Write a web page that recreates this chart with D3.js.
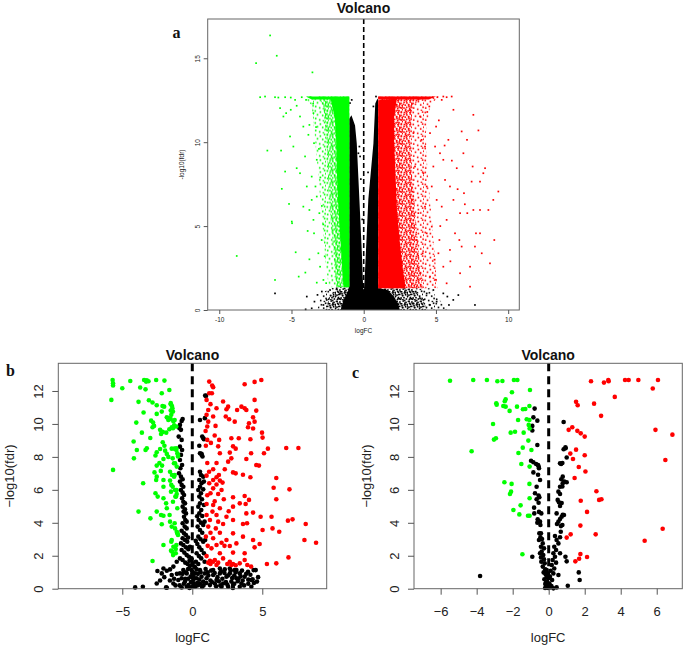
<!DOCTYPE html>
<html><head><meta charset="utf-8">
<script src="https://cdn.jsdelivr.net/npm/d3@7"></script>
<style>body{margin:0;background:#fff}svg{display:block}</style>
</head><body>
<svg id="chart" width="685" height="647"></svg>
<script>
// ---------- tick values ----------
const aXTicks = [-10, -5, 0, 5, 10];
const aYTicks = [0, 5, 10, 15];
const bXTicks = [-5, 0, 5];
const cXTicks = [-6, -4, -2, 0, 2, 4, 6];
const bcYTicks = [0, 2, 4, 6, 8, 10, 12];
const titleText = "Volcano";
const xLabel = "logFC";
const yLabel = "\u2212log10(fdr)";
const yLabelA = "-log10(fdr)";

// ---------- panel a: dense regions (outlines, logFC / -log10(fdr)) ----------
const aBlackSparse = [[-3.2,0],[-3.0,0.9],[-2.4,1.3],[-1.0,1.4],[1.0,1.3],[4.6,1.3],[5.0,0.8],[5.6,0.3],[5.8,0]];
const aBlackDense = [[-2.6,0],[-2.4,0.8],[-1.8,1.25],[-1.0,1.35],[1.0,1.3],[3.4,1.3],[3.8,0.9],[4.2,0.4],[4.4,0]];
const aBlackCore = [[-1.6,0],[-1.4,0.6],[-1.1,1.1],[-1.0,1.35],[-1.0,11.4],[-0.85,11.6],[-0.6,11.0],[-0.48,9.9],[-0.3,6.6],[-0.14,3.6],[-0.05,1.6],[-0.02,1.2],[0.02,1.2],[0.05,1.6],[0.16,3.6],[0.32,6.6],[0.67,9.9],[0.8,12.3],[0.95,12.6],[1.0,12.5],[1.0,1.3],[1.6,1.2],[2.1,0.8],[2.4,0.3],[2.5,0]];
const aGreenSparse = [[-1.0,1.35],[-1.0,12.72],[-4.2,12.72],[-3.6,12.2],[-3.4,10.5],[-3.2,8.5],[-3.0,6.5],[-2.8,4.5],[-2.6,2.5],[-2.4,1.35]];
const aGreenDense = [[-1.0,1.35],[-1.0,12.72],[-3.2,12.72],[-2.8,12.2],[-2.6,10.5],[-2.5,8.5],[-2.4,6.5],[-2.2,4.5],[-2.0,2.5],[-1.9,1.35]];
const aGreenCore = [[-1.0,1.35],[-1.0,12.6],[-2.3,12.6],[-2.0,11.5],[-1.9,10],[-1.85,8],[-1.75,6],[-1.6,4],[-1.5,2.5],[-1.4,1.35]];
const aGreenTop = [[-1.0,12.55],[-3.6,12.55],[-4.0,12.72],[-1.0,12.72]];
const aRedSparse = [[1.0,1.3],[1.0,12.72],[5.2,12.72],[4.6,12.2],[4.3,10.5],[4.4,8.5],[4.6,6.5],[4.8,4.5],[5.0,2.5],[5.1,1.3]];
const aRedDense = [[1.0,1.3],[1.0,12.72],[4.2,12.72],[3.4,12.2],[3.2,10.5],[3.3,8.5],[3.5,6.5],[3.7,4.5],[3.9,2.5],[4.1,1.3]];
const aRedCore = [[1.0,1.3],[1.0,12.5],[2.3,12.6],[2.1,11.5],[2.1,10],[2.2,8],[2.3,6],[2.5,4],[2.7,2.5],[2.9,1.3]];
const aRedTop = [[1.0,12.55],[4.5,12.55],[5.0,12.72],[1.0,12.72]];

// ---------- panel a: individual scattered points ----------
const aGreenPts = [[-6.48,16.36],[-6.02,15.15],[-7.45,14.71],[-3.55,14.16],[-8.79,3.22],[-6.14,1.79],[-6.67,9.5],[-5.72,9.5],[-5.67,7.22],[-5.17,6.32],[-4.98,5.27],[-4.96,5.17],[-4.71,3.44],[-4.5,1.99],[-4.04,2.23],[-3.88,4.71],[-3.76,3.02],[-3.25,1.63],[-5.44,8.25],[-5.1,10.34],[-4.87,9.74],[-4.64,8.45],[-4.41,8.15],[-4.06,9.15],[-3.76,5.96],[-3.48,5.37],[-3.6,6.56],[-3.34,7.36],[-5.56,11.53],[-5.79,12.03],[-5.37,11.73],[-5.05,11.93],[-4.75,12.52],[-7.17,12.68],[-6.83,12.72],[-6.14,12.68],[-5.91,12.66],[-5.44,12.68],[-5.05,12.66],[-4.64,12.17],[-4.41,11.53],[-4.18,10.93],[-3.83,10.44],[-3.44,9.94],[-3.25,8.95],[-3.94,7.36],[-4.18,6.16],[-3.44,4.57],[-3.14,3.38],[-3.02,2.58],[-2.79,1.79],[-2.91,4.17],[-3.07,5.77],[-3.25,6.76],[-3.6,7.95],[-3.76,11.03],[-3.48,11.73],[-3.99,12.52],[-4.29,12.68],[-3.71,12.68],[-2.7,3.2],[-2.8,5.1],[-3.0,7.9],[-3.1,9.6],[-3.3,10.9],[-2.6,1.6],[-2.9,6.2],[-3.5,12.3]];
const aRedPts = [[9.32,7.06],[9.04,4.17],[8.74,2.78],[8.63,5.96],[8.4,8.45],[8.17,3.38],[8.05,4.57],[8.05,7.65],[7.94,10.7],[7.59,11.63],[7.54,8.55],[7.47,7.65],[7.36,1.39],[7.7,3.78],[7.36,2.58],[6.9,9.34],[6.94,6.96],[6.78,10.64],[6.67,5.77],[6.62,4.17],[6.44,8.45],[6.21,11.93],[6.09,12.72],[6.21,6.56],[5.97,3.58],[5.86,10.14],[5.74,5.37],[5.63,7.75],[5.51,2.58],[5.4,12.52],[5.28,9.34],[5.24,4.17],[5.05,6.56],[5.01,10.93],[4.82,8.55],[4.71,4.97],[4.59,1.99],[4.54,12.13],[4.36,7.36],[4.24,9.74],[4.08,3.38],[3.9,11.53],[3.78,5.77],[3.67,1.39],[3.55,8.55],[5.51,12.72],[5.74,12.68],[5.1,12.68],[4.78,12.68],[8.97,6.56],[8.28,8.15],[7.15,10.14],[7.77,4.57],[7.17,5.77],[6.78,3.78],[6.32,4.57],[5.97,7.36],[5.51,8.95],[5.4,6.16],[5.17,3.38],[4.94,9.74],[4.71,7.36],[4.59,10.54],[4.36,4.57],[4.24,6.16],[4.13,8.15],[4.01,10.14],[3.9,2.19],[3.67,4.17],[3.44,10.54],[3.32,6.56],[3.21,11.93],[5.74,1.59],[6.67,2.19],[7.59,5.96],[8.05,5.96],[5.0,1.8],[5.3,5.0],[4.9,3.0],[5.6,9.8],[6.1,8.9],[6.5,7.2],[7.0,6.3],[6.0,2.9],[5.2,11.3],[4.4,11.8]];
const aBlackPts = [[-6.14,0.99],[-3.94,0.8],[-3.41,0.5],[-4.02,0.04],[-3.6,0.1],[-2.79,0.3],[-2.56,0.6],[-2.1,0.8],[-2.33,1.19],[-1.87,1.29],[-1.64,0.99],[6.55,0.89],[7.7,0.3],[5.79,0.8],[5.51,0.99],[4.82,1.19],[4.36,0.99],[4.13,0.6],[3.9,0.7],[5.05,0.5],[4.59,0.3],[3.44,0.4],[-0.25,9.15],[-0.3,9.74],[-0.37,9.34],[0.85,12.72],[-0.83,12.52],[-0.95,12.33],[0.67,12.13],[-3.2,0.9],[-2.9,1.1],[5.9,0.3],[6.2,0.6],[3.6,1.1],[-0.2,7.8],[0.3,8.2],[-0.1,5.4]];

// ---------- panel b points ----------
const bGreen = [[-5.69,12.67],[-5.66,12.47],[-5.66,12.33],[-5.78,11.46],[-5.66,7.21],[-5.0,12.17],[-4.43,12.61],[-3.72,12.21],[-3.44,12.67],[-3.25,12.65],[-3.3,12.57],[-3.13,12.59],[-2.58,12.67],[-1.99,12.63],[-3.34,12.1],[-3.84,11.34],[-3.1,11.44],[-2.84,11.3],[-2.18,11.86],[-1.64,12.06],[-2.54,11.13],[-2.13,11.09],[-2.01,11.05],[-1.54,11.19],[-1.45,11.09],[-1.42,10.95],[-1.54,10.81],[-2.18,10.75],[-2.54,10.61],[-3.48,10.69],[-4.0,10.08],[-2.94,10.2],[-2.8,10.08],[-2.73,9.88],[-2.84,9.8],[-3.6,9.47],[-1.82,10.4],[-1.71,10.24],[-1.54,10.3],[-1.35,10.16],[-1.3,9.92],[-1.47,9.8],[-1.64,9.68],[-2.3,9.64],[-2.11,9.51],[-2.23,9.39],[-4.19,8.93],[-3.0,9.15],[-3.25,8.52],[-3.34,8.42],[-3.96,8.42],[-4.17,7.91],[-2.11,8.89],[-1.99,8.68],[-2.3,8.48],[-2.54,8.28],[-2.63,8.08],[-1.94,8.38],[-1.82,8.18],[-1.71,8.0],[-2.06,7.87],[-2.35,7.63],[-2.16,7.47],[-2.54,7.47],[-2.25,7.15],[-1.47,8.5],[-1.28,8.5],[-1.14,8.42],[-1.07,8.22],[-1.02,8.12],[-1.4,7.91],[-1.23,7.61],[-1.11,7.41],[-2.7,7.06],[-2.54,6.8],[-2.58,6.6],[-3.51,6.4],[-2.06,6.6],[-1.59,7.1],[-1.45,6.9],[-1.3,6.8],[-1.59,6.56],[-1.4,6.19],[-1.23,5.99],[-1.52,5.89],[-1.11,5.75],[-1.16,5.59],[-2.06,6.19],[-2.63,5.79],[-2.47,5.59],[-2.06,5.49],[-1.87,5.18],[-1.82,4.88],[-3.84,4.68],[-2.99,4.27],[-2.23,4.47],[-2.06,4.43],[-2.54,4.68],[-2.18,3.91],[-1.59,4.07],[-1.47,3.77],[-1.23,3.66],[-1.11,3.46],[-1.02,3.26],[-1.07,3.4],[-1.47,2.96],[-1.35,2.55],[-1.18,2.41],[-1.52,2.31],[-2.06,2.65],[-1.37,2.04],[-1.18,2.15],[-2.84,1.68],[-1.54,11.26],[-1.38,10.75],[-1.5,10.55],[-1.26,10.24],[-1.69,10.35],[-1.38,9.74],[-1.14,9.84],[-2.14,9.53],[-1.86,9.47],[-1.14,8.52],[-1.02,8.02],[-1.31,7.61],[-1.26,6.9],[-1.5,6.3],[-1.12,5.99],[-1.21,5.59],[-1.38,5.28],[-1.07,4.88],[-1.62,4.47],[-1.26,3.97],[-1.07,3.36],[-1.5,2.85],[-1.14,2.65],[-1.43,2.25]];
const bRed = [[1.21,12.57],[1.42,12.33],[1.49,12.23],[1.4,11.86],[1.21,11.86],[3.74,12.41],[4.45,12.55],[4.93,12.67],[4.45,11.46],[1.02,11.46],[2.2,11.36],[2.56,11.05],[3.2,10.85],[3.51,11.05],[3.74,10.95],[3.86,10.85],[4.57,10.81],[1.14,10.85],[1.73,10.95],[2.44,10.89],[1.02,10.55],[1.49,10.45],[2.39,10.45],[2.63,10.28],[3.03,10.14],[4.05,10.04],[4.34,10.4],[4.45,10.14],[1.14,10.14],[1.07,9.84],[0.95,9.57],[1.66,9.88],[3.98,9.8],[4.34,9.72],[4.98,9.47],[5.02,9.17],[2.79,9.13],[3.32,9.13],[4.15,9.07],[1.07,9.03],[1.33,8.85],[1.92,9.03],[0.97,8.68],[1.85,8.64],[2.91,8.64],[3.1,8.5],[1.97,8.22],[2.68,8.26],[4.2,8.22],[5.12,8.22],[5.4,8.5],[6.71,8.54],[7.58,8.54],[3.86,7.87],[2.79,7.91],[2.56,7.71],[1.07,7.63],[1.73,7.63],[4.57,7.51],[4.76,7.47],[1.49,7.25],[2.32,7.25],[2.91,7.06],[3.1,7.0],[3.62,6.92],[1.02,6.86],[1.73,6.76],[4.15,6.76],[6.0,6.72],[1.49,6.6],[1.97,6.56],[1.21,6.4],[1.73,6.32],[2.16,6.44],[1.49,6.09],[2.09,5.99],[5.81,6.13],[6.94,6.03],[1.3,5.79],[1.07,5.67],[1.85,5.75],[2.91,5.55],[3.74,5.63],[6.0,5.43],[2.25,5.43],[4.05,5.39],[1.02,5.14],[1.49,5.08],[3.39,5.18],[3.81,5.14],[4.34,4.62],[2.91,4.98],[1.97,4.88],[1.44,4.68],[1.02,4.47],[1.73,4.47],[2.44,4.37],[2.91,4.17],[3.86,4.57],[4.88,4.37],[5.66,4.37],[6.83,4.13],[7.16,4.21],[8.1,3.93],[1.26,4.17],[1.85,4.07],[2.2,3.93],[3.62,3.93],[3.91,3.97],[1.14,3.77],[1.68,3.66],[5.02,3.56],[5.73,3.66],[6.21,3.46],[1.97,3.4],[2.91,3.36],[3.62,3.16],[0.97,3.16],[1.49,3.06],[2.44,2.96],[4.34,2.96],[8.01,2.96],[8.84,2.79],[2.09,2.79],[3.15,2.75],[4.81,2.71],[1.73,2.65],[2.68,2.59],[1.37,2.45],[4.45,2.51],[2.91,2.19],[3.74,2.15],[1.97,2.15],[1.02,1.98],[2.2,1.84],[1.26,1.7],[1.61,1.74],[1.14,1.58],[1.49,1.64],[1.85,1.58],[2.68,1.64],[2.91,1.5],[3.39,1.54],[2.79,1.44],[3.74,1.74],[3.93,1.44],[4.2,1.34],[5.33,1.5],[6.0,1.54],[6.87,1.9],[1.73,1.44],[1.3,1.5],[2.5,1.5],[3.1,1.42],[1.9,6.9],[1.2,7.1],[1.6,5.3],[1.3,3.4],[1.1,2.6],[2.3,2.6],[2.6,4.7],[1.6,9.3],[1.3,11.2]];
const bBlack = [[-0.69,10.3],[-0.76,10.18],[-0.88,9.94],[-0.92,9.74],[-0.81,9.64],[-0.97,9.23],[-0.76,9.03],[-0.88,8.62],[-0.73,8.42],[-0.81,8.12],[-0.88,7.81],[-0.73,7.51],[-0.85,7.31],[-0.95,7.0],[-0.81,6.8],[-0.69,6.64],[-0.88,6.5],[-0.76,6.3],[-0.64,6.19],[-0.81,5.99],[-0.69,5.83],[-0.59,5.69],[-0.73,5.49],[-0.64,5.28],[-0.52,5.18],[-0.69,4.98],[-0.52,4.82],[-0.62,4.68],[-0.45,4.57],[-0.59,4.37],[-0.5,4.17],[-0.4,4.07],[-0.69,3.97],[-0.54,3.77],[-0.4,3.66],[-0.76,3.52],[-0.59,3.36],[-0.45,3.26],[-0.69,3.06],[-0.52,2.96],[-0.36,2.85],[-0.81,2.75],[-0.64,2.65],[-0.45,2.51],[-0.28,2.39],[-0.76,2.35],[-0.57,2.19],[-0.4,2.04],[-0.24,1.94],[-0.88,1.84],[-0.69,1.74],[-0.5,1.58],[-0.33,1.5],[-0.17,1.38],[-1.11,1.64],[-1.35,1.34],[-1.59,1.17],[-1.82,1.09],[-2.06,1.23],[-2.49,1.07],[-2.18,0.93],[-1.47,0.83],[-1.35,0.32],[-1.82,0.06],[-0.88,0.93],[-0.64,1.13],[-0.4,0.93],[-0.76,0.63],[-0.52,0.43],[-0.28,0.22],[-1.0,0.53],[-0.05,1.13],[-0.12,0.73],[0.07,0.53],[0.19,0.93],[0.31,0.63],[0.43,0.22],[0.55,1.13],[0.66,0.73],[0.78,0.43],[0.9,0.93],[1.02,0.63],[1.26,0.22],[1.49,0.83],[1.73,0.53],[1.97,0.93],[2.2,0.32],[2.44,0.73],[2.68,0.93],[2.79,0.43],[3.03,1.13],[3.15,0.63],[3.39,0.93],[3.51,0.32],[3.74,0.73],[3.98,1.03],[4.22,0.53],[4.38,1.13],[4.53,1.13],[4.31,0.57],[4.62,0.43],[4.22,0.12],[1.49,1.13],[1.97,1.23],[2.32,1.17],[2.68,1.23],[3.15,1.13],[1.61,0.32],[2.09,0.12],[2.56,0.12],[2.91,0.22],[3.39,0.12],[0.19,0.12],[-0.17,0.08],[-0.4,0.12],[-0.76,0.08],[-4.08,0.08],[-3.53,0.12],[-2.54,0.32],[-1.87,0.08],[0.92,11.72],[0.55,10.24],[0.71,9.23],[0.83,9.07],[0.5,8.68],[0.55,8.22],[0.66,8.18],[0.73,8.02],[0.55,7.1],[0.62,6.9],[0.78,6.8],[0.5,6.6],[0.66,6.4],[0.83,6.5],[0.55,6.19],[0.43,5.99],[0.78,6.03],[0.62,5.79],[0.5,5.59],[0.69,5.43],[0.55,5.18],[0.43,4.98],[0.83,5.08],[0.64,4.78],[0.5,4.57],[0.71,4.41],[0.45,4.17],[0.62,4.01],[0.78,3.87],[0.38,3.77],[0.55,3.56],[0.71,3.4],[0.43,3.16],[0.59,3.0],[0.78,2.85],[0.36,2.71],[0.5,2.51],[0.66,2.35],[0.31,2.15],[0.47,1.98],[0.64,1.84],[0.26,1.64],[0.43,1.5],[0.14,1.34],[0.31,1.17],[0.02,1.03],[0.88,4.07],[0.92,2.96],[0.83,2.15],[0.88,1.64],[-0.17,2.55],[-0.05,1.84],[0.02,1.54],[0.98,11.7],[0.9,10.35],[0.79,9.13],[0.67,8.12],[-0.3,0.6],[0.1,0.3],[0.4,0.9],[1.1,1.0],[1.8,0.7],[2.4,0.4],[3.0,0.8],[3.6,0.5],[4.0,0.3],[1.3,0.5],[0.7,0.1],[-0.6,0.3],[-1.2,0.2],[-0.2,1.7],[0.25,2.9],[-0.3,3.1],[0.35,4.4],[-0.9,0.2],[-0.7,0.9],[-0.5,0.6],[-0.3,1.2],[-0.1,0.4],[0.0,0.9],[0.2,1.3],[0.35,0.35],[0.5,0.55],[0.6,1.0],[0.8,0.2],[0.95,1.2],[1.15,0.8],[1.35,1.1],[1.4,0.4],[1.6,0.95],[1.7,0.15],[1.9,0.45],[2.05,1.05],[2.15,0.6],[2.3,0.95],[2.5,0.25],[2.55,0.8],[2.75,1.1],[2.85,0.65],[3.0,0.3],[3.1,1.0],[3.25,0.45],[3.45,0.75],[3.55,1.1],[3.7,0.2],[3.85,0.9],[4.0,0.55],[4.15,0.85],[4.4,0.35],[4.7,0.7],[-1.1,0.9],[-1.3,0.6],[-1.6,0.5],[-2.0,0.7],[-2.3,0.5],[0.1,0.7],[-0.45,1.0],[0.25,0.15],[1.0,0.35],[2.0,0.2],[2.9,0.05],[3.3,0.6],[-0.2,0.05],[0.55,0.3]];

// ---------- panel c points ----------
const cGreen = [[-5.48,12.62],[-4.19,12.67],[-3.43,12.67],[-2.85,12.59],[-2.57,12.61],[-1.93,12.67],[-1.74,12.67],[-2.04,11.92],[-1.04,12.06],[-2.91,11.25],[-2.89,11.17],[-2.39,11.5],[-2.44,11.38],[-2.52,11.09],[-2.39,11.05],[-1.76,11.05],[-2.17,10.79],[-1.43,10.89],[-1.3,10.91],[-1.07,11.09],[-1.7,10.24],[-1.22,10.28],[-1.07,10.24],[-1.11,9.94],[-1.06,9.72],[-3.09,10.0],[-1.87,9.53],[-2.11,9.47],[-1.39,9.47],[-3.04,9.05],[-2.93,9.13],[-1.13,8.99],[-1.44,8.56],[-0.96,8.42],[-1.68,8.24],[-4.28,8.34],[-1.52,7.57],[-1.06,7.41],[-2.46,6.46],[-2.06,6.36],[-2.09,5.89],[-2.15,5.75],[-1.07,6.36],[-1.06,5.49],[-1.56,5.06],[-1.96,4.78],[-1.63,4.51],[-1.15,4.43],[-1.06,4.43],[-1.46,2.09]];
const cRed = [[2.35,12.59],[3.07,12.51],[3.31,12.67],[3.33,12.59],[4.24,12.67],[4.44,12.67],[4.98,12.67],[6.07,12.67],[5.78,12.15],[3.67,11.64],[1.52,11.34],[1.61,11.13],[2.52,11.23],[2.91,10.49],[1.11,9.64],[1.31,9.8],[1.59,9.58],[1.78,9.43],[2.0,9.23],[5.93,9.64],[6.87,9.35],[1.2,8.2],[1.52,8.44],[1.35,7.87],[2.0,8.1],[1.67,7.39],[2.04,7.11],[1.44,6.72],[6.48,7.81],[1.78,5.34],[2.65,5.91],[2.8,5.39],[2.93,5.43],[2.13,4.66],[1.76,3.83],[2.61,3.3],[1.22,3.3],[1.0,3.1],[6.33,3.64],[5.33,2.91],[1.76,2.1],[2.13,1.92],[1.69,1.82],[1.48,1.66]];
const cBlack = [[-0.78,10.93],[-0.85,10.4],[-0.63,10.2],[-0.91,9.88],[-0.91,9.6],[-0.63,8.72],[-0.98,7.77],[-0.85,7.67],[-0.7,7.57],[-0.59,7.51],[-0.56,7.41],[-0.54,7.31],[-0.85,7.06],[-0.59,6.92],[-0.48,6.6],[-0.67,6.19],[-0.76,5.79],[-0.56,5.65],[-0.67,5.43],[-0.52,5.55],[-0.56,5.22],[-0.81,4.92],[-0.8,4.57],[-0.54,4.66],[-0.41,4.57],[-0.61,4.21],[-0.63,4.01],[-0.48,4.07],[-0.46,3.87],[-0.52,3.36],[-0.43,3.36],[-0.46,3.12],[-0.54,2.96],[-0.37,3.02],[-0.33,2.75],[-0.43,2.55],[-0.26,2.45],[-0.39,2.25],[-0.48,2.15],[-0.3,2.04],[-0.43,1.9],[-0.26,1.78],[-0.41,1.64],[-0.22,1.54],[-0.33,1.34],[-0.19,1.17],[-0.28,0.99],[-0.17,0.87],[-0.11,0.73],[-0.24,0.57],[-0.09,0.43],[-0.19,0.28],[-0.06,0.16],[-0.13,0.08],[-0.11,1.13],[-0.07,0.93],[-0.02,0.63],[-0.15,0.38],[-0.91,1.94],[-3.81,0.77],[0.83,10.12],[0.93,8.58],[0.83,8.46],[0.94,8.52],[1.0,7.96],[0.69,7.57],[0.76,7.63],[0.63,7.61],[0.78,6.8],[0.7,6.64],[1.0,6.46],[0.78,6.4],[0.87,6.5],[0.63,6.19],[0.76,6.2],[0.54,5.89],[0.63,5.75],[0.5,5.39],[0.57,5.24],[0.63,5.02],[0.72,5.2],[0.44,4.57],[0.78,4.49],[0.85,4.47],[0.72,4.37],[0.63,4.23],[0.54,4.07],[0.46,3.93],[0.76,3.87],[0.68,3.8],[0.67,3.46],[0.35,3.2],[0.63,3.12],[0.44,2.96],[0.54,2.75],[0.31,2.55],[0.41,2.35],[0.26,2.15],[0.35,1.94],[0.63,2.15],[0.22,1.74],[0.41,1.58],[0.17,1.44],[0.31,1.23],[0.11,1.09],[0.26,0.93],[0.07,0.73],[0.19,0.53],[0.04,0.32],[0.15,0.16],[0.07,0.08],[0.54,0.83],[0.93,1.94],[1.0,1.66],[1.67,0.99],[1.72,0.53],[1.06,0.18],[0.44,0.08],[0.26,0.02],[-0.02,0.04],[-0.2,0.04]];

// ---------- drawing ----------
const svg = d3.select('#chart');
svg.append('rect').attr('width', 685).attr('height', 647).attr('fill', '#fff');
const defs = svg.append('defs');
// texture tiles (pure styling) used to render the very dense point clouds of panel a
const TILE_DENSE = [[0.3,0.5],[3.1,1.2],[6.4,0.2],[9.2,1.6],[1.5,3.4],[4.8,3.0],[7.6,4.1],[10.4,3.7],[0.2,6.3],[2.9,5.6],[5.9,6.8],[8.8,6.0],[10.9,7.9],[1.7,8.7],[4.3,9.2],[7.2,8.9],[9.6,10.2],[0.6,10.8],[3.4,11.4],[6.1,11.0],[8.1,2.4],[11.0,5.2],[5.2,4.9],[2.4,10.0]];
const TILE_SPARSE = [[0.5,0.8],[5.6,1.9],[9.8,0.4],[2.7,4.6],[7.9,5.3],[11.0,3.6],[0.9,8.4],[4.9,9.7],[8.6,10.8],[10.3,7.6]];
function makePattern(id, color, dots, off) {
  const p = defs.append('pattern').attr('id', id).attr('patternUnits', 'userSpaceOnUse')
    .attr('width', 12).attr('height', 12).attr('x', off).attr('y', off * 0.7);
  dots.forEach(([px, py]) =>
    p.append('rect').attr('x', px).attr('y', py).attr('width', 1.6).attr('height', 1.6).attr('fill', color));
}
makePattern('patKd', '#000', TILE_DENSE, 0);
makePattern('patKs', '#000', TILE_SPARSE, 3);
makePattern('patGd', '#00FF00', TILE_DENSE, 5);
makePattern('patGs', '#00FF00', TILE_SPARSE, 2);
makePattern('patRd', '#FF0000', TILE_DENSE, 7);
makePattern('patRs', '#FF0000', TILE_SPARSE, 4);

const FONT = 'Liberation Sans, Arial, Helvetica, sans-serif';
const GREEN = '#00FF00', RED = '#FF0000', BLACK = '#000';

function panel(o) {
  const x = d3.scaleLinear().domain(o.xd).range([o.L, o.R]);
  const y = d3.scaleLinear().domain(o.yd).range([o.B, o.T]);
  const g = svg.append('g');
  const shape = d3.line().x(d => x(d[0])).y(d => y(d[1])).curve(d3.curveLinearClosed);

  (o.layers || []).forEach(layer => {
    if (layer.poly) {
      g.append('path').attr('d', shape(layer.poly)).attr('fill', layer.fill);
    } else if (layer.pts) {
      if (o.square) {
        g.append('g').selectAll('rect').data(layer.pts).join('rect')
          .attr('x', d => x(d[0]) - o.size / 2).attr('y', d => y(d[1]) - o.size / 2)
          .attr('width', o.size).attr('height', o.size).attr('fill', layer.fill);
      } else {
        g.append('g').selectAll('circle').data(layer.pts).join('circle')
          .attr('cx', d => x(d[0])).attr('cy', d => y(d[1])).attr('r', o.size).attr('fill', layer.fill);
      }
    }
  });

  // dashed zero line
  g.append('line').attr('x1', x(0)).attr('x2', x(0)).attr('y1', o.T).attr('y2', o.B)
    .attr('stroke', '#000').attr('stroke-width', o.dashW).attr('stroke-dasharray', o.dash);

  // box
  g.append('rect').attr('x', o.L).attr('y', o.T).attr('width', o.R - o.L).attr('height', o.B - o.T)
    .attr('fill', 'none').attr('stroke', '#666').attr('stroke-width', 1);

  // x axis
  const fmt = d => (d < 0 ? '\u2212' + Math.abs(d) : String(d));
  const xa = g.append('g').attr('transform', `translate(0,${o.B})`)
    .call(d3.axisBottom(x).tickValues(o.xt).tickSize(o.tick).tickSizeOuter(0).tickPadding(o.xpad).tickFormat(o.fmtA ? (d => String(d)) : fmt));
  xa.select('.domain').remove();
  xa.selectAll('line').attr('stroke', '#555');
  xa.selectAll('text').attr('font-family', FONT).attr('font-size', o.fs).attr('fill', '#222');

  // y axis with rotated labels
  const ya = g.append('g').attr('transform', `translate(${o.L},0)`)
    .call(d3.axisLeft(y).tickValues(o.yt).tickSize(o.tick).tickSizeOuter(0).tickFormat(d => String(d)));
  ya.select('.domain').remove();
  ya.selectAll('line').attr('stroke', '#555');
  ya.selectAll('text').attr('transform', 'rotate(-90)').attr('x', 0).attr('y', -(o.tick + o.ypad))
    .attr('dy', 0).attr('text-anchor', 'middle')
    .attr('font-family', FONT).attr('font-size', o.fs).attr('fill', '#222');

  // title
  g.append('text').attr('x', (o.L + o.R) / 2).attr('y', o.titleY).attr('text-anchor', 'middle')
    .attr('font-family', FONT).attr('font-weight', 'bold').attr('font-size', 14).attr('fill', '#111')
    .text(titleText);
  // axis titles
  g.append('text').attr('x', (o.L + o.R) / 2).attr('y', o.xlabY).attr('text-anchor', 'middle')
    .attr('font-family', FONT).attr('font-size', o.lfs).attr('fill', '#222').text(xLabel);
  g.append('text').attr('transform', `translate(${o.ylabX},${(o.T + o.B) / 2}) rotate(-90)`)
    .attr('text-anchor', 'middle').attr('font-family', FONT).attr('font-size', o.lfs).attr('fill', '#222')
    .text(o.ylab);
  // panel letter
  g.append('text').attr('x', o.letterX).attr('y', o.letterY)
    .attr('font-family', 'Liberation Serif, Times New Roman, serif').attr('font-weight', 'bold')
    .attr('font-size', 16).attr('fill', '#111').text(o.letter);
}

// panel a
panel({
  L: 207.7, R: 519.3, T: 19, B: 310, xd: [-10.8, 10.77], yd: [0, 17.34],
  xt: aXTicks, yt: aYTicks, tick: 4, xpad: 3, ypad: 4, fs: 6.5, lfs: 6.5, fmtA: true,
  square: true, size: 1.7, dashW: 1.6, dash: '5,3',
  titleY: 12.5, xlabY: 333, ylabX: 184, ylab: yLabelA,
  letter: 'a', letterX: 172.5, letterY: 38,
  layers: [
    { poly: aBlackSparse, fill: 'url(#patKs)' },
    { poly: aBlackDense, fill: 'url(#patKd)' },
    { poly: aBlackCore, fill: BLACK },
    { pts: aBlackPts, fill: BLACK },
    { poly: aGreenSparse, fill: 'url(#patGs)' },
    { poly: aGreenDense, fill: 'url(#patGd)' },
    { poly: aGreenCore, fill: GREEN },
    { poly: aGreenTop, fill: GREEN },
    { pts: aGreenPts, fill: GREEN },
    { poly: aRedSparse, fill: 'url(#patRs)' },
    { poly: aRedDense, fill: 'url(#patRd)' },
    { poly: aRedCore, fill: RED },
    { poly: aRedTop, fill: RED },
    { pts: aRedPts, fill: RED }
  ]
});

// panel b
panel({
  L: 58.3, R: 326.7, T: 363.3, B: 588.7, xd: [-9.57, 9.6], yd: [0, 13.68],
  xt: bXTicks, yt: bcYTicks, tick: 6, xpad: 12, ypad: 9.5, fs: 13, lfs: 13,
  square: false, size: 2.3, dashW: 3, dash: '8,5',
  titleY: 359.5, xlabY: 641.5, ylabX: 14, ylab: yLabel,
  letter: 'b', letterX: 6, letterY: 375.5,
  layers: [
    { pts: bBlack, fill: BLACK },
    { pts: bGreen, fill: GREEN },
    { pts: bRed, fill: RED }
  ]
});

// panel c
panel({
  L: 414, R: 682.3, T: 363.3, B: 588.7, xd: [-7.48, 7.42], yd: [0, 13.68],
  xt: cXTicks, yt: bcYTicks, tick: 6, xpad: 12, ypad: 9.5, fs: 13, lfs: 13,
  square: false, size: 2.3, dashW: 3, dash: '8,5',
  titleY: 359.5, xlabY: 641.5, ylabX: 371, ylab: yLabel,
  letter: 'c', letterX: 352, letterY: 378,
  layers: [
    { pts: cBlack, fill: BLACK },
    { pts: cGreen, fill: GREEN },
    { pts: cRed, fill: RED }
  ]
});
</script>
</body></html>
